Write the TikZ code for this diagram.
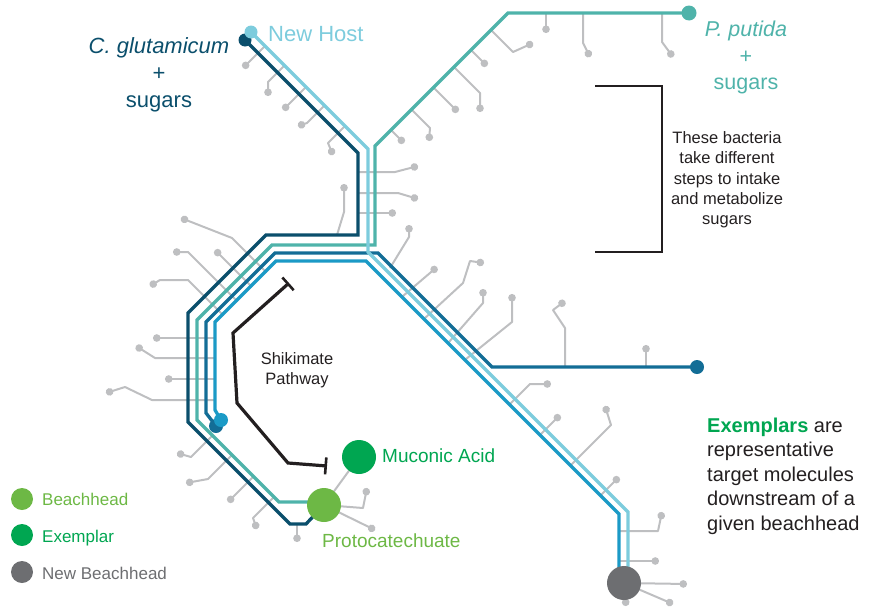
\documentclass[tikz,border=0pt]{standalone}
\usepackage{fontspec}
\setmainfont{Liberation Sans}
\usetikzlibrary{arrows.meta}

\definecolor{navy}{RGB}{11,79,108}
\definecolor{hostcyan}{RGB}{125,204,221}
\definecolor{putidateal}{RGB}{79,179,170}
\definecolor{midblue}{RGB}{19,109,150}
\definecolor{brightblue}{RGB}{27,154,198}
\definecolor{twigc}{RGB}{190,191,193}
\definecolor{beach}{RGB}{109,184,69}
\definecolor{exemplar}{RGB}{0,166,81}
\definecolor{newbeach}{RGB}{109,110,113}
\definecolor{ink}{RGB}{35,31,32}

\tikzset{
  twig/.style={draw=twigc, line width=2pt, line join=round,
    -{Circle[length=7.5pt,width=7.5pt]}},
  plaintwig/.style={draw=twigc, line width=2pt, line join=round},
  route/.style={line width=3.3pt, line join=miter},
  enddot/.style={circle, inner sep=0pt, minimum size=#1},
  hub/.style={circle, inner sep=0pt, minimum size=34pt},
  lbl/.style={anchor=base, inner sep=0pt},
  lblw/.style={anchor=base west, inner sep=0pt},
}

\begin{document}
\begin{tikzpicture}[x=1pt,y=-1pt]
\useasboundingbox (0,0) rectangle (869,608);

% positions of hubs and route ends
\coordinate (glutend) at (245,40);
\coordinate (hostend) at (251,32);
\coordinate (putend) at (689,13);
\coordinate (midend) at (697,367);
\coordinate (midstart) at (216,426);
\coordinate (brightstart) at (221,420);
\coordinate (proto) at (324,505);
\coordinate (muconic) at (359,457);
\coordinate (newhub) at (624,583);

% ---------- side reactions (grey twigs) ----------
% along the upper left diagonal
\draw[twig] (265,46) -- (243,68);
\draw[twig] (284.5,65.5) -- (268,82) -- (268,96);
\draw[twig] (306,87) -- (283,110);
\draw[twig] (324.5,105.5) -- (307,123) -- (298,126);
\draw[twig] (345,126) -- (328,143) -- (333,155);
% along the upper right diagonal
\draw[twig] (491,30) -- (513,52) -- (533,43);
\draw[twig] (471,50) -- (487,66);
\draw[twig] (454,67) -- (480,93) -- (480,112);
\draw[twig] (433.5,87.5) -- (458,112);
\draw[twig] (411.5,109.5) -- (430,128) -- (429,141);
\draw[twig] (391,130) -- (404,143);
% below the top horizontal
\draw[twig] (546,13) -- (546,33);
\draw[twig] (583,13) -- (583,43) -- (590,57);
\draw[twig] (662,13) -- (662,42) -- (673,57);
% around the central trunk
\draw[twig] (358,172) -- (395,172) -- (418,166);
\draw[twig] (358,193) -- (398,193) -- (418,199);
\draw[twig] (358,213) -- (396,213);
\draw[twig] (337,235) -- (344,212) -- (344,184);
\draw[twig] (390,268) -- (409,237) -- (409,225);
% along the right diagonal
\draw[twig] (403,296) -- (437,267);
\draw[twig] (425,318) -- (463,283) -- (470,261) -- (484,263);
\draw[twig] (449,342) -- (483,303) -- (483,289);
\draw[twig] (466,359) -- (512,322) -- (512,294);
\draw[twig] (565,367) -- (565,328) -- (553,310) -- (565,301);
\draw[twig] (646,367) -- (646,345);
\draw[twig] (510,404) -- (530,384) -- (551,384);
\draw[twig] (541,434) -- (560,415);
\draw[twig] (571,465) -- (611,425) -- (605,406);
\draw[twig] (601,495) -- (619,477);
\draw[twig] (620,531) -- (658,531) -- (662,512);
\draw[twig] (620,561) -- (659,561);
\draw[twig] (newhub) -- (687,584);
\draw[twig] (newhub) -- (673,604);
\draw[twig] (newhub) -- (626,606);
% along the left diagonal
\draw[twig] (266.5,272.5) -- (232,238) -- (181,218);
\draw[twig] (237.5,301.5) -- (188,252) -- (173,252);
\draw[twig] (252,287) -- (215,250);
\draw[twig] (223.5,315.5) -- (188,280) -- (160,280) -- (150,286);
% along the left vertical
\draw[twig] (215,338) -- (153,338);
\draw[twig] (215,358) -- (155,358) -- (136,346);
\draw[twig] (215,379) -- (165,379);
\draw[twig] (215,400) -- (152,400) -- (125,387) -- (106,393);
% along the lower left diagonal
\draw[twig] (212,436) -- (191,457) -- (177,453);
\draw[twig] (231.5,455.5) -- (208,479) -- (186,483);
\draw[twig] (253,477) -- (228,502);
\draw[twig] (273.5,497.5) -- (253,518) -- (257,529);
\draw[twig] (297,524) -- (297,542);
% around protocatechuate
\draw[twig] (proto) -- (363,508) -- (367,488);
\draw[twig] (proto) -- (375,530);
\draw[plaintwig] (proto) -- (muconic);

% ---------- host routes ----------
\draw[route, navy] (glutend) -- (358,153) -- (358,235) -- (266,235)
  -- (188,313) -- (188,422) -- (290,524) -- (306,524) -- (proto);
\draw[route, putidateal] (putend) -- (508,13) -- (375,146) -- (375,245)
  -- (272,245) -- (197,320) -- (197,420) -- (279,502) -- (proto |- 0,502);
\draw[route, midblue] (midstart) -- (206,413) -- (206,322) -- (275,253)
  -- (378,253) -- (492,367) -- (midend);
\draw[route, hostcyan] (hostend) -- (368,149) -- (368,252) -- (628,512)
  -- (628,575);
\draw[route, brightblue] (brightstart) -- (215,410) -- (215,322)
  -- (276,261) -- (366,261) -- (619,514) -- (619,575);

% route end points
\node[enddot=13pt, fill=navy] (glutdot) at (glutend) {};
\node[enddot=13pt, fill=hostcyan] (hostdot) at (hostend) {};
\node[enddot=15pt, fill=putidateal] (putdot) at (putend) {};
\node[enddot=14pt, fill=midblue] (middot) at (midend) {};
\node[enddot=14pt, fill=midblue] (midstartdot) at (midstart) {};
\node[enddot=14pt, fill=brightblue] (brightdot) at (brightstart) {};

% molecules
\node[hub, fill=beach] (protodisc) at (proto) {};
\node[hub, fill=exemplar] (muconicdisc) at (muconic) {};
\node[hub, fill=newbeach] (newhubdisc) at (newhub) {};

% shikimate pathway
\coordinate (shiktop) at (289,283);
\coordinate (shikend) at (327,466);
\draw[draw=ink, line width=3.2pt, line join=miter,
  {Bar[width=17pt,line width=2.6pt]}-{Bar[width=17pt,line width=2.6pt]}]
  (shiktop) -- (233,333) -- (237,403) -- (288,463) -- (shikend);

% bracket grouping the sugar intake steps
\coordinate (brtop) at (595,86);
\coordinate (brbot) at (595,252);
\draw[draw=ink, line width=2.5pt, line join=miter]
  (brtop) -- (662,86) -- (662,252) -- (brbot);

% ---------- labels ----------
\begin{scope}[every node/.append style={font=\fontsize{22}{26}\selectfont}]
\node[lbl, text=navy] (glut1) at (159,53) {\textit{C. glutamicum}};
\node[lbl, text=navy] (glut2) at (159,80) {+};
\node[lbl, text=navy] (glut3) at (159,107) {sugars};
\node[lblw, text=hostcyan] (host) at (268,41) {New Host};
\end{scope}
\begin{scope}[every node/.append style={font=\fontsize{21.5}{26}\selectfont, text=putidateal}]
\node[lbl] (put1) at (746,36) {\textit{P. putida}};
\node[lbl] (put2) at (746,63) {+};
\node[lbl] (put3) at (746,89) {sugars};
\end{scope}
\begin{scope}[every node/.append style={font=\fontsize{16.5}{20}\selectfont, text=ink}]
\node[lbl] (br1) at (727,143) {These bacteria};
\node[lbl] (br2) at (727,163.5) {take different};
\node[lbl] (br3) at (727,184) {steps to intake};
\node[lbl] (br4) at (727,204) {and metabolize};
\node[lbl] (br5) at (727,224.5) {sugars};
\node[lbl] (shik1) at (297,364) {Shikimate};
\node[lbl] (shik2) at (297,384) {Pathway};
\end{scope}
\begin{scope}[every node/.append style={font=\fontsize{19}{22}\selectfont}]
\node[lblw, text=exemplar] (mulbl) at (382,462) {Muconic Acid};
\node[lblw, text=beach] (protolbl) at (322,547) {Protocatechuate};
\end{scope}
\begin{scope}[every node/.append style={font=\fontsize{20}{24}\selectfont, text=ink}]
\node[lblw] (ex1) at (707,432) {\textcolor{exemplar}{\bfseries Exemplars} are};
\node[lblw] (ex2) at (707,456.5) {representative};
\node[lblw] (ex3) at (707,481) {target molecules};
\node[lblw] (ex4) at (707,505.5) {downstream of a};
\node[lblw] (ex5) at (707,530) {given beachhead};
\end{scope}

% legend
\node[enddot=22pt, fill=beach] (legbeach) at (22,499) {};
\node[enddot=22pt, fill=exemplar] (legex) at (22,535) {};
\node[enddot=22pt, fill=newbeach] (legnew) at (22,572) {};
\begin{scope}[every node/.append style={font=\fontsize{17}{20}\selectfont}]
\node[lblw, text=beach] (legbeachtxt) at (42,505) {Beachhead};
\node[lblw, text=exemplar] (legextxt) at (42,542) {Exemplar};
\node[lblw, text=newbeach] (legnewtxt) at (42,579) {New Beachhead};
\end{scope}
\end{tikzpicture}
\end{document}
